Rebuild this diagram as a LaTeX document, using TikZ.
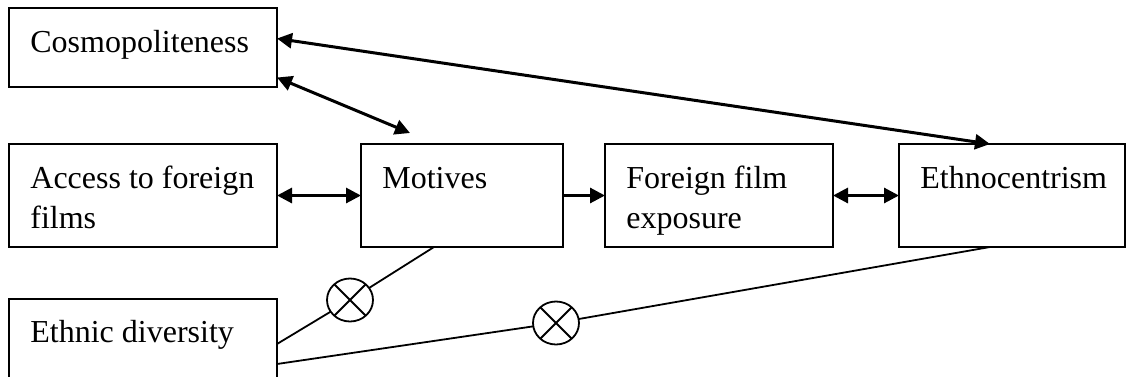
\documentclass[tikz,border=0pt]{standalone}
\usepackage{fontspec}
\setmainfont{Liberation Serif}
\usetikzlibrary{shapes, positioning, arrows.meta}

\tikzset{
  box/.style={draw, rectangle, line width=1pt, inner sep=0pt, outer sep=0pt, anchor=north west},
  txt/.style={inner sep=0pt, anchor=base west, align=flush left, text width=125pt, font=\fontsize{16}{20}\selectfont},
  link/.style={line width=1.5pt, {Triangle[length=7.5pt,width=7.5pt]}-{Triangle[length=7.5pt,width=7.5pt]}},
  push/.style={line width=1.5pt, -{Triangle[length=7.5pt,width=7.5pt]}},
  mult/.style={draw, ellipse, line width=0.9pt, minimum width=23pt, minimum height=21.5pt, inner sep=0pt, outer sep=0pt},
  plain/.style={line width=0.9pt}
}

\begin{document}
\begin{tikzpicture}[x=0.5pt, y=-0.5pt]
\clip (0,0) rectangle (1126,376);

%% boxes
\node[box, minimum width=134pt, minimum height=39.5pt] (cosmo) at (9,8) {};
\node[box, minimum width=134pt, minimum height=51.5pt] (access) at (9,144) {};
\node[box, minimum width=101pt, minimum height=51.5pt] (motives) at (361,144) {};
\node[box, minimum width=114pt, minimum height=51.5pt] (exposure) at (605,144) {};
\node[box, minimum width=113pt, minimum height=51.5pt] (ethno) at (899,144) {};
\node[box, minimum width=134pt, minimum height=60pt] (ethnic) at (9,299) {};

%% labels
\node[txt] (cosmotxt) at ([shift={(21,44)}]cosmo.north west) {Cosmopoliteness};
\node[txt] (accesstxt) at ([shift={(21,44)}]access.north west) {Access to foreign\\films};
\node[txt] (motivestxt) at ([shift={(21,44)}]motives.north west) {Motives};
\node[txt] (exposuretxt) at ([shift={(21,44)}]exposure.north west) {Foreign film\\exposure};
\node[txt] (ethnotxt) at ([shift={(21,44)}]ethno.north west) {Ethnocentrism};
\node[txt] (ethnictxt) at ([shift={(21,43)}]ethnic.north west) {Ethnic diversity};

%% arrows
\draw[link] ([shift={(0,-9)}]cosmo.east) -- ([shift={(-22,0)}]ethno.north);
\draw[link] ([shift={(0,30)}]cosmo.east) -- ([shift={(-52,-11)}]motives.north);
\draw[link] (access.east) -- (motives.west);
\draw[push] (motives.east) -- (exposure.west);
\draw[link] (exposure.east) -- (ethno.west);

%% interaction terms
\node[mult] (cross1) at (350,300) {};
\node[mult] (cross2) at (556,323) {};
\draw[plain] (cross1.45) -- (cross1.225) (cross1.135) -- (cross1.-45);
\draw[plain] (cross2.45) -- (cross2.225) (cross2.135) -- (cross2.-45);
\draw[plain] ([shift={(0,-15)}]ethnic.east) -- (cross1) -- ([shift={(-28,0)}]motives.south);
\draw[plain] ([shift={(0,5)}]ethnic.east) -- (cross2) -- ([shift={(-22,0)}]ethno.south);

\end{tikzpicture}
\end{document}
